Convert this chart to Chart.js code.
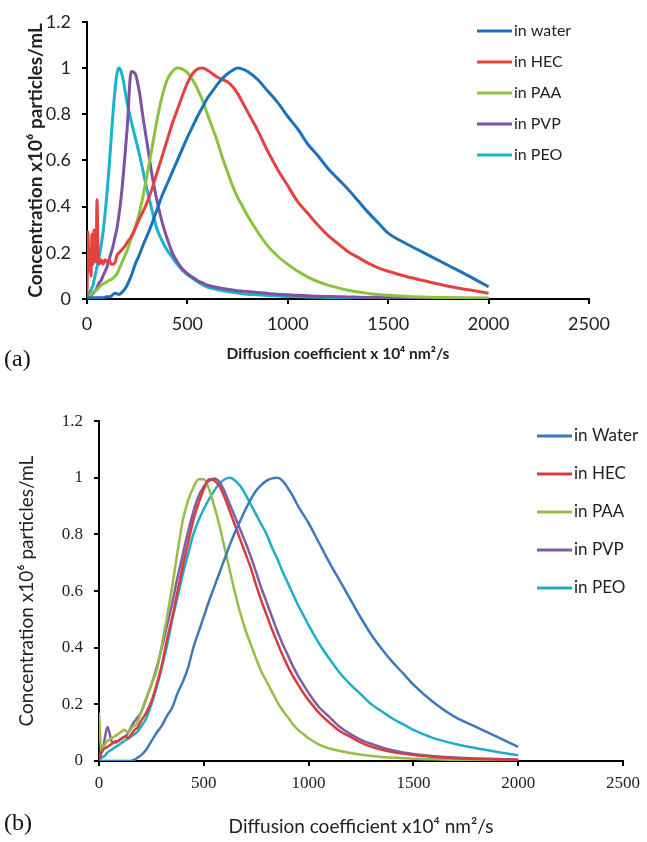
<!DOCTYPE html>
<html>
<head>
<meta charset="utf-8">
<script src="https://cdn.jsdelivr.net/npm/chart.js@4.4.1/dist/chart.umd.min.js"></script>
<style>
  html, body { margin: 0; padding: 0; background: #fff; }
  #page { position: relative; width: 647px; height: 842px; }
  canvas { position: absolute; left: 0; }
  #chartA { top: 0; }
  #chartB { top: 400px; }
  .panel { position: absolute; left: 4px; font-family: "Liberation Serif", serif; font-size: 24px; line-height: 28px; color: #111; }
</style>
</head>
<body>
<div id="page">
  <canvas id="chartA" width="647" height="372"></canvas>
  <canvas id="chartB" width="647" height="442"></canvas>
  <div class="panel" style="top:344px">(a)</div>
  <div class="panel" style="top:808px">(b)</div>
</div>
<script>
// panel (a): diffusion coefficient grid and concentrations (x10^6 particles/mL)
const diffusionA = [0, 5, 10, 15, 20, 25, 30, 35, 40, 45, 50, 55, 60,
  70, 80, 90, 100, 110, 120, 130, 140, 150, 160, 170, 180, 190, 200,
  220, 240, 260, 280, 300,
  325, 350, 375, 400, 425, 450, 475, 500, 525, 550, 575, 600, 625, 650, 675, 700, 725, 750, 775, 800,
  850, 900, 950, 1000, 1050, 1100, 1150, 1200, 1250, 1300, 1350, 1400, 1450, 1500,
  1600, 1700, 1800, 1900, 2000];

const waterA = [0, 0, 0.005, 0.005, 0.005, 0.005, 0.005, 0.005, 0.005, 0.005, 0.005, 0.005, 0.005,
  0.005, 0.005, 0.008, 0.01, 0.01, 0.012, 0.02, 0.025, 0.022, 0.02, 0.025, 0.035, 0.045, 0.06,
  0.1, 0.15, 0.19, 0.235, 0.275,
  0.33, 0.39, 0.45, 0.5, 0.55, 0.6, 0.65, 0.7, 0.745, 0.79, 0.83, 0.87, 0.9, 0.93, 0.955, 0.975, 0.99, 1, 0.995, 0.985,
  0.95, 0.9, 0.85, 0.79, 0.735, 0.67, 0.62, 0.565, 0.52, 0.475, 0.425, 0.375, 0.33, 0.285,
  0.235, 0.19, 0.145, 0.1, 0.053];

const hecA = [0, 0.29, 0.12, 0.2, 0.1, 0.28, 0.15, 0.3, 0.17, 0.16, 0.43, 0.2, 0.15,
  0.17, 0.15, 0.17, 0.16, 0.17, 0.15, 0.15, 0.16, 0.19, 0.2, 0.21, 0.22, 0.23, 0.245,
  0.27, 0.305, 0.345, 0.38, 0.42,
  0.48, 0.55, 0.62, 0.69, 0.76, 0.82, 0.88, 0.935, 0.975, 0.995, 1, 0.99, 0.975, 0.96, 0.95, 0.94, 0.92, 0.89, 0.85, 0.81,
  0.73, 0.64, 0.56, 0.49, 0.42, 0.37, 0.32, 0.275, 0.24, 0.205, 0.18, 0.155, 0.135, 0.12,
  0.095, 0.075, 0.055, 0.04, 0.025];

const paaA = [0, 0.005, 0.01, 0.015, 0.02, 0.025, 0.03, 0.032, 0.035, 0.038, 0.04, 0.045, 0.05,
  0.06, 0.065, 0.07, 0.075, 0.08, 0.085, 0.09, 0.1, 0.11, 0.13, 0.15, 0.17, 0.19, 0.21,
  0.26, 0.31, 0.37, 0.45, 0.54,
  0.66, 0.78, 0.88, 0.95, 0.985, 1, 0.995, 0.98, 0.95, 0.91, 0.86, 0.8, 0.74, 0.68, 0.61, 0.55, 0.49, 0.44, 0.4, 0.36,
  0.29, 0.23, 0.185, 0.15, 0.12, 0.095, 0.075, 0.06, 0.048, 0.038, 0.03, 0.024, 0.019, 0.016,
  0.011, 0.008, 0.006, 0.004, 0.003];

const pvpA = [0, 0, 0.005, 0.01, 0.015, 0.02, 0.025, 0.03, 0.035, 0.04, 0.05, 0.06, 0.07,
  0.08, 0.1, 0.12, 0.14, 0.17, 0.2, 0.23, 0.27, 0.31, 0.37, 0.44, 0.53, 0.63, 0.74,
  0.985, 0.975, 0.9, 0.78, 0.67,
  0.53, 0.42, 0.33, 0.26, 0.2, 0.16, 0.13, 0.11, 0.095, 0.08, 0.07, 0.06, 0.054, 0.05, 0.046, 0.042, 0.039, 0.036, 0.034, 0.032,
  0.028, 0.024, 0.021, 0.018, 0.016, 0.014, 0.012, 0.011, 0.01, 0.009, 0.008, 0.007, 0.006, 0.006,
  0.005, 0.004, 0.004, 0.003, 0.003];

const peoA = [0, 0.01, 0.02, 0.03, 0.04, 0.05, 0.06, 0.08, 0.1, 0.12, 0.14, 0.16, 0.18,
  0.23, 0.29, 0.37, 0.46, 0.57, 0.69, 0.81, 0.91, 0.98, 1, 0.985, 0.95, 0.9, 0.85,
  0.77, 0.7, 0.63, 0.55, 0.47,
  0.38, 0.3, 0.25, 0.21, 0.18, 0.15, 0.125, 0.105, 0.09, 0.075, 0.062, 0.052, 0.046, 0.04, 0.036, 0.032, 0.029, 0.026, 0.023, 0.021,
  0.018, 0.015, 0.013, 0.011, 0.01, 0.009, 0.008, 0.007, 0.006, 0.006, 0.005, 0.005, 0.004, 0.004,
  0.004, 0.003, 0.003, 0.002, 0.002];

// panel (b)
const diffusionB = [0, 5, 10, 20, 30, 40, 50, 60, 70, 80, 90, 100, 110, 120, 130, 140, 150, 160, 170, 180, 190, 200,
  225, 250, 275, 300, 325, 350, 375, 400, 425, 450, 475, 500, 525, 550, 575, 600, 625, 650, 675, 700,
  725, 750, 775, 800, 825, 850, 875, 900, 925, 950, 975, 1000,
  1050, 1100, 1150, 1200, 1250, 1300, 1350, 1400, 1450, 1500,
  1600, 1700, 1800, 1900, 2000];

const waterB = [0, 0, 0, 0, 0, 0, 0, 0, 0, 0, 0, 0, 0, 0, 0, 0, 0, 0.002, 0.005, 0.01, 0.015, 0.02,
  0.04, 0.07, 0.1, 0.125, 0.16, 0.19, 0.24, 0.28, 0.33, 0.4, 0.455, 0.51, 0.565, 0.615, 0.665, 0.715, 0.765, 0.81, 0.85, 0.89,
  0.925, 0.955, 0.975, 0.99, 0.998, 1, 0.99, 0.965, 0.935, 0.9, 0.87, 0.84,
  0.77, 0.7, 0.635, 0.57, 0.505, 0.445, 0.395, 0.35, 0.31, 0.27,
  0.205, 0.155, 0.12, 0.085, 0.05];

const hecB = [0, 0.01, 0.025, 0.04, 0.045, 0.05, 0.055, 0.06, 0.065, 0.07, 0.07, 0.075, 0.08, 0.085, 0.085, 0.08, 0.09, 0.1, 0.11, 0.115, 0.125, 0.14,
  0.17, 0.21, 0.27, 0.34, 0.43, 0.51, 0.6, 0.69, 0.77, 0.85, 0.91, 0.96, 0.995, 0.99, 0.97, 0.93, 0.88, 0.83, 0.78, 0.73,
  0.68, 0.62, 0.565, 0.515, 0.465, 0.42, 0.375, 0.335, 0.3, 0.27, 0.24, 0.215,
  0.17, 0.135, 0.105, 0.085, 0.065, 0.05, 0.04, 0.032, 0.026, 0.021,
  0.014, 0.01, 0.007, 0.005, 0.004];

const paaB = [0.17, 0.1, 0.03, 0.05, 0.06, 0.07, 0.075, 0.08, 0.085, 0.09, 0.095, 0.1, 0.105, 0.11, 0.105, 0.1, 0.11, 0.12, 0.125, 0.13, 0.15, 0.17,
  0.22, 0.27, 0.32, 0.41, 0.51, 0.62, 0.74, 0.85, 0.92, 0.965, 0.995, 0.995, 0.96, 0.9, 0.83, 0.75, 0.67, 0.59, 0.52, 0.46,
  0.41, 0.36, 0.315, 0.28, 0.245, 0.21, 0.18, 0.155, 0.13, 0.11, 0.095, 0.08,
  0.058, 0.044, 0.035, 0.028, 0.022, 0.018, 0.014, 0.012, 0.01, 0.008,
  0.006, 0.004, 0.003, 0.002, 0.002];

const pvpB = [0, 0.02, 0.04, 0.05, 0.09, 0.12, 0.1, 0.07, 0.065, 0.065, 0.07, 0.075, 0.08, 0.085, 0.09, 0.1, 0.115, 0.13, 0.14, 0.15, 0.16, 0.17,
  0.22, 0.27, 0.33, 0.4, 0.48, 0.56, 0.65, 0.73, 0.81, 0.88, 0.935, 0.97, 0.99, 0.998, 0.985, 0.95, 0.905, 0.86, 0.815, 0.77,
  0.72, 0.665, 0.61, 0.56, 0.51, 0.46, 0.415, 0.375, 0.335, 0.3, 0.27, 0.24,
  0.19, 0.155, 0.12, 0.095, 0.075, 0.06, 0.048, 0.038, 0.03, 0.025,
  0.017, 0.012, 0.009, 0.007, 0.005];

const peoB = [0, 0.005, 0.01, 0.015, 0.02, 0.03, 0.035, 0.04, 0.045, 0.05, 0.055, 0.06, 0.065, 0.07, 0.075, 0.08, 0.085, 0.09, 0.095, 0.1, 0.11, 0.12,
  0.15, 0.2, 0.26, 0.33, 0.41, 0.5, 0.58, 0.66, 0.73, 0.8, 0.85, 0.89, 0.925, 0.955, 0.98, 0.995, 1, 0.99, 0.97, 0.94,
  0.905, 0.87, 0.835, 0.8, 0.755, 0.715, 0.67, 0.63, 0.59, 0.55, 0.515, 0.48,
  0.415, 0.36, 0.31, 0.27, 0.235, 0.2, 0.175, 0.15, 0.13, 0.11,
  0.08, 0.06, 0.045, 0.032, 0.02];

const labelsA = ["in water", "in HEC", "in PAA", "in PVP", "in PEO"];
const labelsB = ["in Water", "in HEC", "in PAA", "in PVP", "in PEO"];
const colorsA = ["#1b72bb", "#e3423f", "#8bc33f", "#7d52a3", "#18b3cc"];
const colorsB = ["#3f79bd", "#d63d40", "#97bd47", "#7f5ea6", "#20adc5"];

const yTitle = "Concentration x10\u2076 particles/mL";

Chart.defaults.font.family = "Lato, 'Open Sans', sans-serif";
Chart.defaults.color = "#222";

function series(xs, ys) {
  return xs.map((x, i) => ({ x: x, y: ys[i] }));
}

// draws the short line + label legend at a fixed spot inside the plot
const lineLegend = {
  id: "lineLegend",
  afterDraw(chart, args, opts) {
    const ctx = chart.ctx;
    ctx.save();
    ctx.font = opts.font;
    ctx.textBaseline = "middle";
    chart.data.datasets.forEach((ds, i) => {
      const y = opts.y + i * opts.gap;
      ctx.strokeStyle = ds.borderColor;
      ctx.lineWidth = opts.lineWidth;
      ctx.beginPath();
      ctx.moveTo(opts.x, y);
      ctx.lineTo(opts.x + opts.length, y);
      ctx.stroke();
      ctx.fillStyle = "#222";
      ctx.fillText(ds.label, opts.x + opts.length + 2, y);
    });
    ctx.restore();
  }
};

function buildChart(canvasId, xs, seriesList, labels, colors, cfg) {
  return new Chart(document.getElementById(canvasId), {
    type: "line",
    data: {
      datasets: seriesList.map((ys, i) => ({
        label: labels[i],
        data: series(xs, ys),
        borderColor: colors[i],
        backgroundColor: colors[i]
      }))
    },
    plugins: [lineLegend],
    options: {
      responsive: false,
      animation: false,
      layout: { padding: cfg.padding },
      elements: {
        point: { radius: 0 },
        line: { borderWidth: cfg.lineWidth, cubicInterpolationMode: "monotone" }
      },
      plugins: {
        legend: { display: false },
        tooltip: { enabled: false },
        lineLegend: cfg.legend
      },
      scales: {
        x: {
          type: "linear",
          min: 0,
          max: 2500,
          afterFit: (s) => { s.height = cfg.xHeight; },
          ticks: { stepSize: 500, color: "#222", font: cfg.tickFont, padding: cfg.xTickPad, maxRotation: 0, callback: (v) => String(v) },
          grid: { drawOnChartArea: false, tickLength: 5, color: "#000", lineWidth: 2 },
          border: { color: "#000", width: 2 },
          title: { display: true, text: cfg.xTitle, color: "#222", font: cfg.xTitleFont, padding: { top: 0, bottom: cfg.xTitlePad } }
        },
        y: {
          min: 0,
          max: 1.2,
          afterFit: (s) => { s.width = cfg.yWidth; },
          ticks: { stepSize: 0.2, color: "#222", font: cfg.tickFont, padding: cfg.yTickPad, callback: (v) => String(+v.toFixed(1)) },
          grid: { drawOnChartArea: false, tickLength: 5, color: "#000", lineWidth: 2 },
          border: { color: "#000", width: 2 },
          title: { display: true, text: yTitle, color: "#222", font: cfg.yTitleFont, padding: { top: cfg.yTitlePad, bottom: 0 } }
        }
      }
    }
  });
}

buildChart("chartA", diffusionA, [waterA, hecA, paaA, pvpA, peoA], labelsA, colorsA, {
  padding: { top: 20, right: 58, bottom: 0, left: 0 },
  lineWidth: 3,
  xHeight: 73,
  yWidth: 87,
  tickFont: { size: 18 },
  xTickPad: 9,
  yTickPad: 11,
  xTitle: "Diffusion coefficient x 10\u2074 nm\u00b2/s",
  xTitleFont: { size: 15.5, weight: "bold" },
  xTitlePad: 9,
  yTitleFont: { size: 19, weight: "bold" },
  yTitlePad: 24,
  legend: { x: 477, y: 31, gap: 31, length: 35, lineWidth: 3, font: "16px Lato" }
});

buildChart("chartB", diffusionB, [waterB, hecB, paaB, pvpB, peoB], labelsB, colorsB, {
  padding: { top: 17, right: 19, bottom: 0, left: 0 },
  lineWidth: 2.5,
  xHeight: 81,
  yWidth: 99,
  tickFont: { size: 17, family: "'Liberation Serif', serif" },
  xTickPad: 7,
  yTickPad: 11,
  xTitle: "Diffusion coefficient x10\u2074 nm\u00b2/s",
  xTitleFont: { size: 19 },
  xTitlePad: 4,
  yTitleFont: { size: 19 },
  yTitlePad: 15,
  legend: { x: 537, y: 36, gap: 38, length: 35, lineWidth: 3, font: "17px Lato" }
});
</script>
</body>
</html>
